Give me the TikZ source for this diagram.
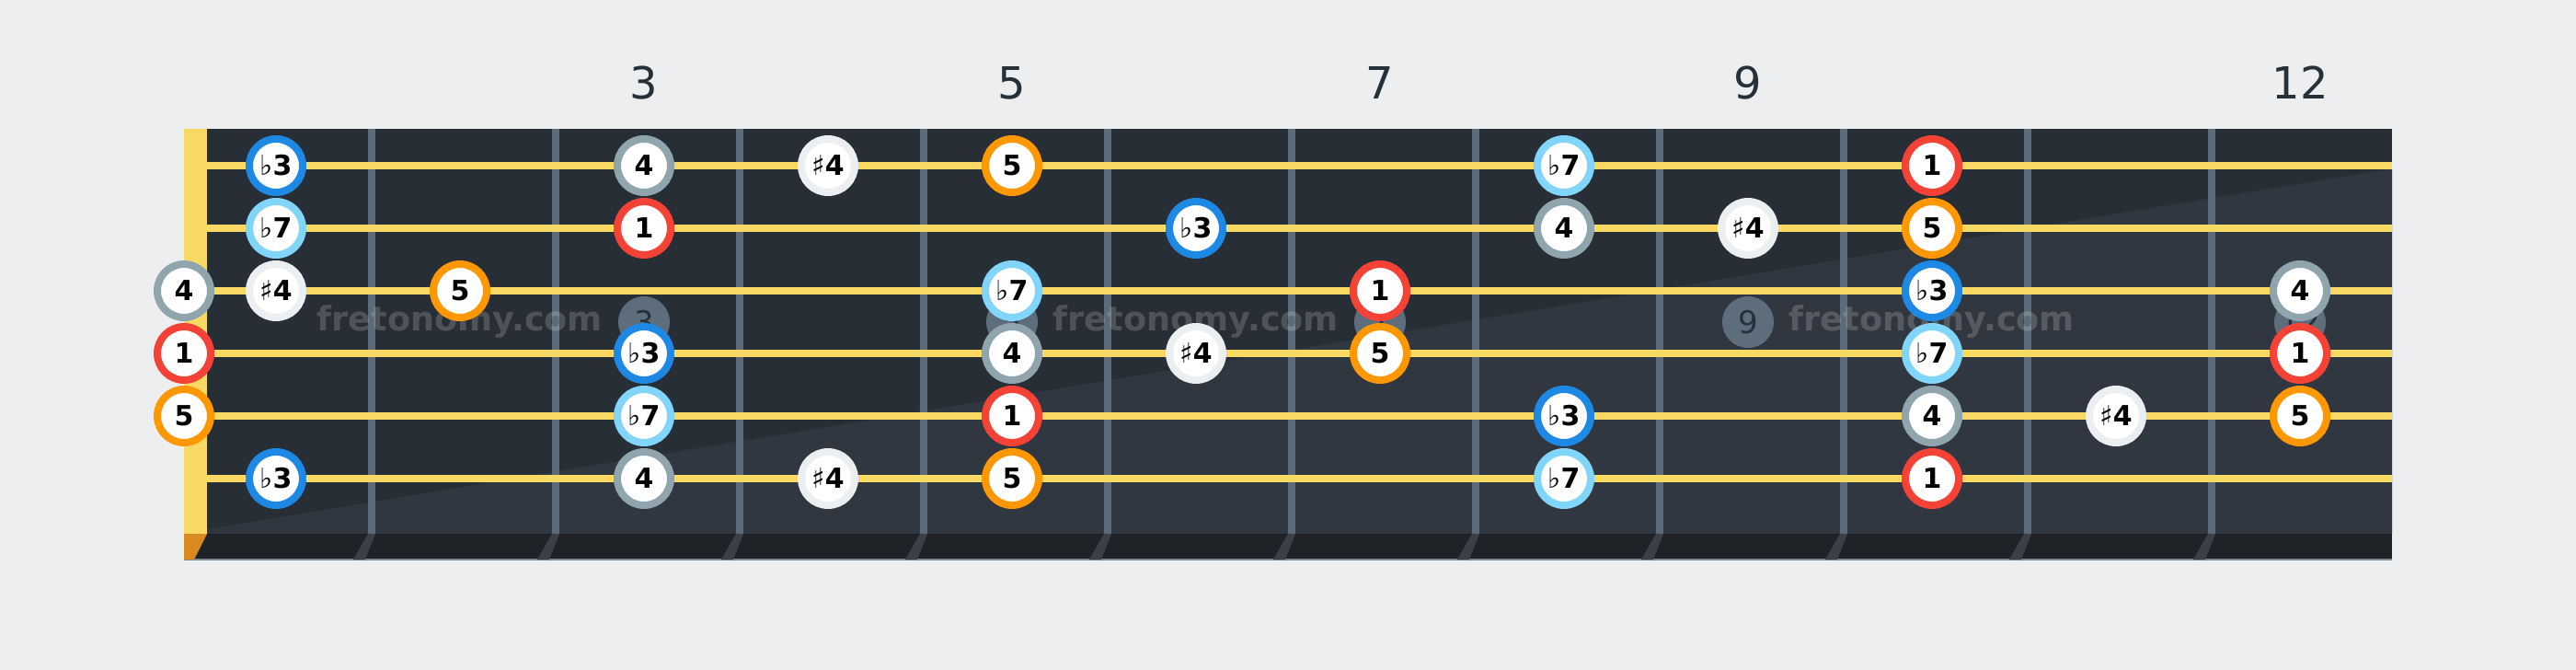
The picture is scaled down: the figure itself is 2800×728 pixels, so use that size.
\documentclass[tikz,border=0pt]{standalone}
\usepackage{fontspec}
\setmainfont{DejaVu Sans}
\definecolor{bgc}{HTML}{EDEEF0}
\definecolor{boardc}{HTML}{282E36}
\definecolor{boardlc}{HTML}{313740}
\definecolor{footc}{HTML}{1F2328}
\definecolor{edgec}{HTML}{7D8C9C}
\definecolor{fretc}{HTML}{5B6B7A}
\definecolor{fretfootc}{HTML}{3B4047}
\definecolor{nutfootc}{HTML}{D98A1F}
\definecolor{stringc}{HTML}{F8D964}
\definecolor{numc}{HTML}{263038}
\definecolor{markc}{HTML}{5D6D7C}
\definecolor{ringred}{HTML}{F44336}
\definecolor{ringblue}{HTML}{1E88E5}
\definecolor{ringlblue}{HTML}{81D4FA}
\definecolor{ringgray}{HTML}{90A4AE}
\definecolor{ringlgray}{HTML}{ECEFF1}
\definecolor{ringorange}{HTML}{FF9800}
\newcommand\myflat{{\mdseries ♭}}
\newcommand\mysharp{{\mdseries ♯}}
\tikzset{
  fretnum/.style={text=numc, font=\fontsize{24}{24}\selectfont, inner sep=0pt},
  marker/.style={circle, fill=markc, minimum size=28pt, inner sep=0pt, text=numc, font=\fontsize{17}{17}\selectfont},
  watermark/.style={text=white, text opacity=0.18, font=\bfseries\fontsize{18.3}{18.3}\selectfont, inner sep=0pt},
  note/.style={circle, fill=white, line width=4pt, minimum size=29pt, inner sep=0pt, text=black, font=\bfseries\fontsize{15}{15}\selectfont},
  dA/.style={note, draw=ringred},
  dB/.style={note, draw=ringblue},
  dC/.style={note, draw=ringgray},
  dD/.style={note, draw=ringlgray},
  dE/.style={note, draw=ringorange},
  dF/.style={note, draw=ringlblue},
}
\begin{document}
\begin{tikzpicture}[x=0.5pt,y=-0.5pt]
\useasboundingbox[fill=bgc] (0,0) rectangle (2800,728);
% board
\fill[boardc] (200,140) rectangle (2600,580);
\fill[boardlc] (225,575) -- (2600,183) -- (2600,580) -- (225,580) -- cycle;
\fill[footc] (200,580) rectangle (2600,608);
\fill[edgec] (200,607) rectangle (2600,609);
% fret feet
\foreach \x in {404,604,...,2404}
  \fill[fretfootc] (\x-4,580) -- (\x+4,580) -- (\x-7,608) -- (\x-20,608) -- cycle;
\fill[nutfootc] (200,580) -- (225,580) -- (211,608) -- (200,608) -- cycle;
% frets
\foreach \x in {404,604,...,2404}
  \fill[fretc] (\x-4,140) rectangle (\x+4,580);
% nut
\fill[stringc] (200,140) rectangle (225,580);
% fret numbers
\foreach \x/\n in {700/3,1100/5,1500/7,1900/9,2500/12}
  \node[fretnum] (fn\n) at (\x,90) {\n};
% inlay markers
\foreach \x/\n in {700/3,1100/5,1500/7,1900/9,2500/12}
  \node[marker] (mk\n) at (\x,350) {\n};
% watermarks
\foreach \x/\i in {500/1,1300/2,2100/3}
  \node[watermark] (wm\i) at (\x,350) {fretonomy.com};
% strings
\foreach \y in {180,248,316,384,452,520}
  \fill[stringc] (225,\y-4) rectangle (2600,\y+4);
% notes: string / fret / style / label
\foreach \s/\f/\d/\t in {
  1/1/dB/{\myflat3}, 1/3/dC/4, 1/4/dD/{\mysharp4}, 1/5/dE/5, 1/8/dF/{\myflat7}, 1/10/dA/1,
  2/1/dF/{\myflat7}, 2/3/dA/1, 2/6/dB/{\myflat3}, 2/8/dC/4, 2/9/dD/{\mysharp4}, 2/10/dE/5,
  3/0/dC/4, 3/1/dD/{\mysharp4}, 3/2/dE/5, 3/5/dF/{\myflat7}, 3/7/dA/1, 3/10/dB/{\myflat3}, 3/12/dC/4,
  4/0/dA/1, 4/3/dB/{\myflat3}, 4/5/dC/4, 4/6/dD/{\mysharp4}, 4/7/dE/5, 4/10/dF/{\myflat7}, 4/12/dA/1,
  5/0/dE/5, 5/3/dF/{\myflat7}, 5/5/dA/1, 5/8/dB/{\myflat3}, 5/10/dC/4, 5/11/dD/{\mysharp4}, 5/12/dE/5,
  6/1/dB/{\myflat3}, 6/3/dC/4, 6/4/dD/{\mysharp4}, 6/5/dE/5, 6/8/dF/{\myflat7}, 6/10/dA/1}{
  \pgfmathsetmacro\xx{\f==0 ? 200 : 100+200*\f}
  \pgfmathsetmacro\yy{180+68*(\s-1)}
  \node[\d] (n\s-\f) at (\xx,\yy) {\t};
}
\end{tikzpicture}
\end{document}
